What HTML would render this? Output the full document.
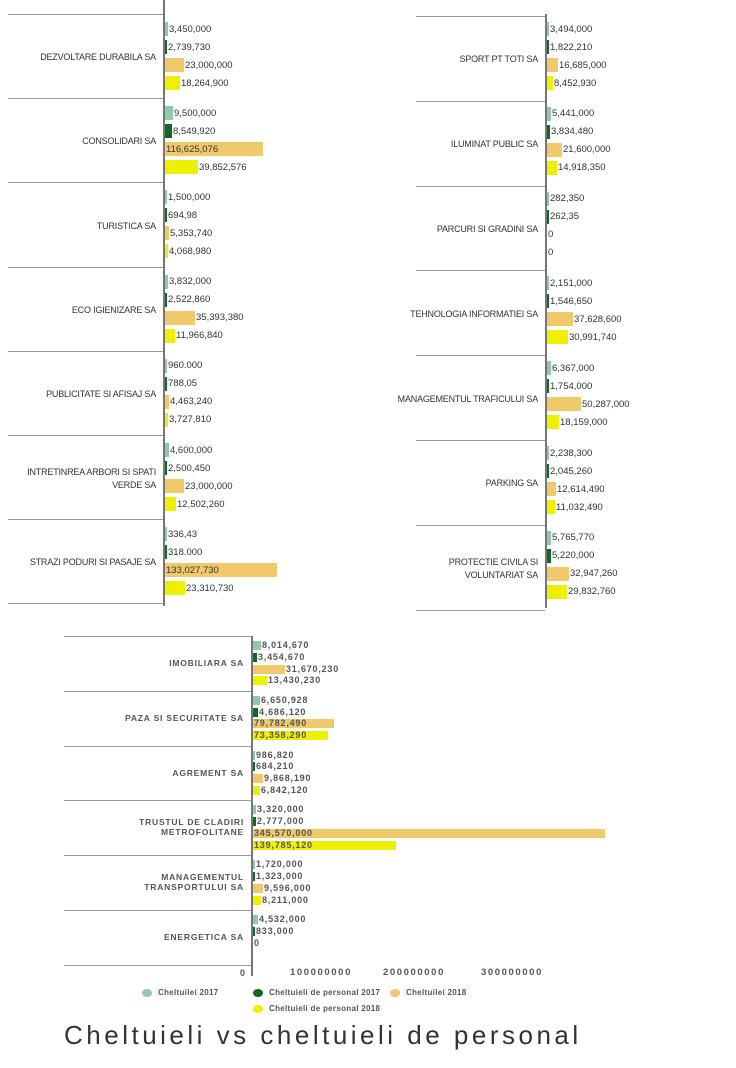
<!DOCTYPE html>
<html><head><meta charset="utf-8">
<style>
body{margin:0;width:736px;height:1068px;background:#fff;position:relative;overflow:hidden;font-family:"Liberation Sans",sans-serif;}
div{position:absolute;}
.t{font-size:9.5px;color:#333;white-space:nowrap;line-height:11px;}
.tc{font-size:9px;letter-spacing:-0.2px;color:#333;white-space:nowrap;line-height:13px;}
.b{font-size:9px;color:#555;font-weight:bold;letter-spacing:0.8px;white-space:nowrap;line-height:10px;}
.bc{font-size:8.5px;color:#555;font-weight:bold;letter-spacing:0.8px;line-height:10px;}
</style></head><body>
<div id="root" style="left:0;top:0;width:736px;height:1068px;"></div>
<div style="left:64px;top:1020px;font-size:26px;letter-spacing:3.5px;color:#333;white-space:nowrap;">Cheltuieli vs cheltuieli de personal</div>
<script>
var C=['#8fc9a8','#0b6b1e','#f0c96a','#eef000'];
var out='';
function fmt(n){return n.toLocaleString('en-US');}
function panel(o){
 out+='<div style="left:'+o.ax+'px;top:'+o.at+'px;width:2px;height:'+(o.ab-o.at)+'px;background:#777"></div>';
 o.g.forEach(function(g,i){
  var T=o.top+i*o.gh;
  out+='<div style="left:'+o.lx+'px;top:'+T+'px;width:'+(o.ax-o.lx)+'px;height:1px;background:#999"></div>';
  var two=g[0].indexOf('<br>')>0;
  out+='<div class="'+(o.cls=='t'?'tc':'bc')+'" style="right:'+(736-o.ax+7)+'px;top:'+(T+o.gh/2-(two?11:5))+'px;text-align:right;white-space:nowrap;">'+g[0]+'</div>';
  for(var k=0;k<g[1].length;k++){
   var v=g[1][k],w=Math.max(v>0?2:0,Math.round(v*o.sc/1e6)),y=T+o.off+k*o.rs;
   var lab=(g[2]&&g[2][k]!==undefined&&g[2][k]!==null)?g[2][k]:fmt(v);
   out+='<div style="left:'+(o.ax+2)+'px;top:'+y+'px;width:'+w+'px;height:'+o.bh+'px;background:'+C[k]+'"></div>';
   var lw=lab.length*(o.cls=='t'?5.3:6.2);
   var lx=(w>lw+4)?o.ax+3:o.ax+3+w;
   out+='<div class="'+o.cls+'" style="left:'+lx+'px;top:'+(y+o.bh/2-5.5)+'px">'+lab+'</div>';
  }
 });
 out+='<div style="left:'+o.lx+'px;top:'+(o.top+o.g.length*o.gh)+'px;width:'+(o.ax-o.lx)+'px;height:1px;background:#999"></div>';
}
panel({ax:163,at:0,ab:606,lx:8,top:14,gh:84.2,off:8,rs:18,bh:14,sc:0.84,cls:'t',g:[
['DEZVOLTARE DURABILA SA',[3450000,2739730,23000000,18264900]],
['CONSOLIDARI SA',[9500000,8549920,116625076,39852576]],
['TURISTICA SA',[1500000,694980,5353740,4068980],[null,'694,98']],
['ECO IGIENIZARE SA',[3832000,2522860,35393380,11966840]],
['PUBLICITATE SI AFISAJ SA',[960000,788050,4463240,3727810],['960.000','788,05']],
['INTRETINREA ARBORI SI SPATI<br>VERDE SA',[4600000,2500450,23000000,12502260]],
['STRAZI PODURI SI PASAJE SA',[336430,318000,133027730,23310730],['336,43','318.000']]
]});
panel({ax:545,at:14,ab:608,lx:416,top:16,gh:84.8,off:6,rs:18,bh:14,sc:0.68,cls:'t',g:[
['SPORT PT TOTI SA',[3494000,1822210,16685000,8452930]],
['ILUMINAT PUBLIC SA',[5441000,3834480,21600000,14918350]],
['PARCURI SI GRADINI SA',[282350,262350,0,0],[null,'262,35']],
['TEHNOLOGIA INFORMATIEI SA',[2151000,1546650,37628600,30991740]],
['MANAGEMENTUL TRAFICULUI SA',[6367000,1754000,50287000,18159000]],
['PARKING SA',[2238300,2045260,12614490,11032490]],
['PROTECTIE CIVILA SI<br>VOLUNTARIAT SA',[5765770,5220000,32947260,29832760]]
]});
panel({ax:251,at:636,ab:976,lx:64,top:636,gh:54.8,off:5,rs:11.8,bh:9,sc:1.02,cls:'b',g:[
['IMOBILIARA SA',[8014670,3454670,31670230,13430230]],
['PAZA SI SECURITATE SA',[6650928,4686120,79782490,73358290]],
['AGREMENT SA',[986820,684210,9868190,6842120]],
['TRUSTUL DE CLADIRI<br>METROFOLITANE',[3320000,2777000,345570000,139785120]],
['MANAGEMENTUL<br>TRANSPORTULUI SA',[1720000,1323000,9596000,8211000]],
['ENERGETICA SA',[4532000,833000,0]]
]});
out+='<div class="b" style="left:240px;top:968px">0</div>';
[['100000000',290],['200000000',383],['300000000',481]].forEach(function(t){out+='<div class="b" style="font-size:9.5px;letter-spacing:1.6px;left:'+t[1]+'px;top:968px">'+t[0]+'</div>';});
[[147,993,0,'Cheltuilei 2017'],[258,993,1,'Cheltuieli de personal 2017'],[395,993,2,'Cheltuilei 2018'],[258,1009,3,'Cheltuieli de personal 2018']].forEach(function(l){
 out+='<div style="left:'+(l[0]-5)+'px;top:'+(l[1]-4)+'px;width:10px;height:8px;border-radius:50%;background:'+C[l[2]]+'"></div>';
 out+='<div class="b" style="font-size:8px;letter-spacing:.3px;left:'+(l[0]+11)+'px;top:'+(l[1]-5)+'px">'+l[3]+'</div>';
});
document.getElementById('root').innerHTML=out;
</script>
</body></html>
